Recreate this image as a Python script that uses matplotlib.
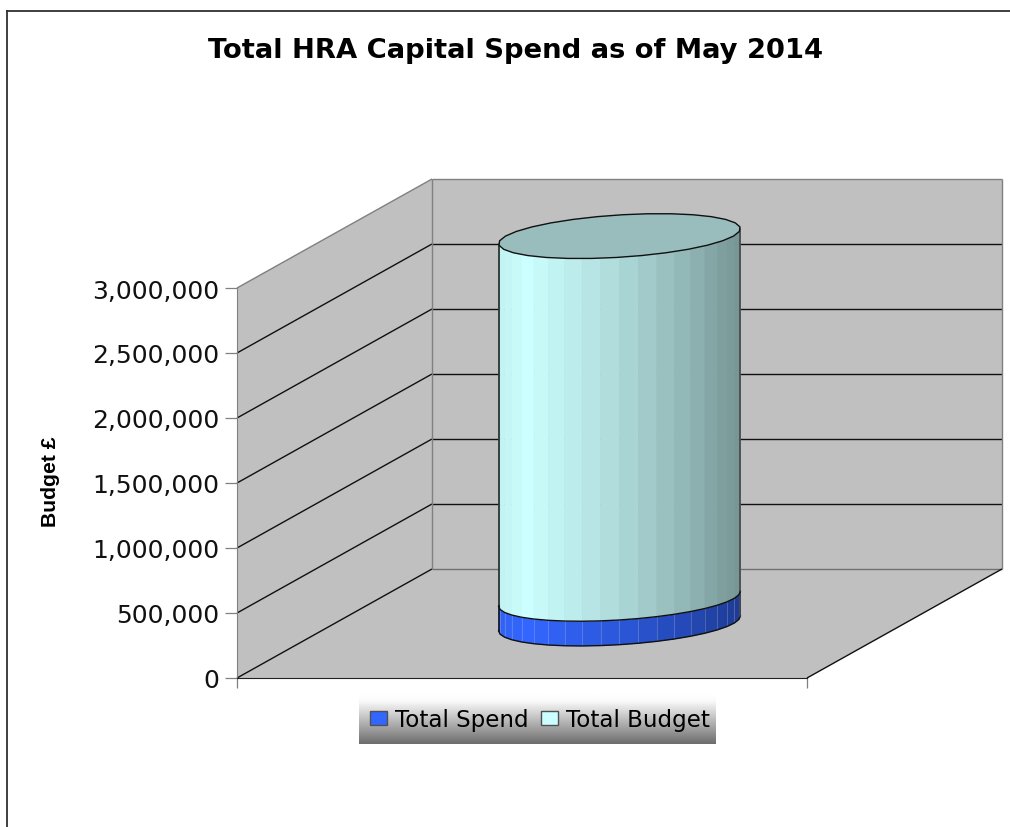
#!/usr/bin/env python
import matplotlib
matplotlib.use("Agg")
import matplotlib.pyplot as plt
import numpy as np
from matplotlib.lines import Line2D
from matplotlib.patches import Patch, Polygon
from matplotlib.ticker import FuncFormatter

title = "Total HRA Capital Spend as of May 2014"
ylabel = "Budget £"
series_names = ["Total Spend", "Total Budget"]
series_values = [190000, 2790000]
series_colors = ["#3366FF", "#CCFFFF"]
yticks = [0, 500000, 1000000, 1500000, 2000000, 2500000, 3000000]

W, H = 1010, 828
# oblique depth of the box, in axis units
DEPTH_X = 195 / 570
DEPTH_Y = 109 / 390 * 3000000
RAD_X = 0.2
RAD_D = 0.206
GREY = "#C0C0C0"
EDGE = "#808080"


def rect(x0, y0, x1, y1):
    return [x0 / W, 1 - y1 / H, (x1 - x0) / W, (y1 - y0) / H]


def project(x, d, v):
    return x + DEPTH_X * d, v + DEPTH_Y * d


def wall(ax, pts, z=1):
    xy = [project(*p) for p in pts]
    ax.add_patch(Polygon(xy, closed=True, fc=GREY, ec="none", zorder=z, clip_on=False))


def seg(ax, pts, color, lw=1.0, z=2):
    xy = np.array([project(*p) for p in pts])
    ax.plot(xy[:, 0], xy[:, 1], color=color, lw=lw, zorder=z, clip_on=False,
            solid_capstyle="butt", solid_joinstyle="miter")


def ring(t, v):
    return project(0.5 + RAD_X * np.cos(t), 0.5 + RAD_D * np.sin(t), v)


def shade(color, f):
    rgb = np.array(matplotlib.colors.to_rgb(color))
    k = np.interp(f, [0, 0.12, 0.5, 0.8, 1], [0.95, 1, 0.85, 0.7, 0.58])
    return rgb * k


def draw_section(ax, low, high, color, seam=False):
    a = RAD_X * 570
    b = RAD_D * 195
    t_right = np.arctan2(b, a)
    t = np.linspace(t_right - np.pi, t_right, 21)
    xs, ys_low = ring(t, low)
    _, ys_high = ring(t, high)
    for i in range(len(t) - 1):
        f = (0.5 * (xs[i] + xs[i + 1]) - xs[0]) / (xs[-1] - xs[0])
        c = shade(color, f)
        quad = [(xs[i], ys_low[i]), (xs[i + 1], ys_low[i + 1]),
                (xs[i + 1], ys_high[i + 1]), (xs[i], ys_high[i])]
        ax.add_patch(Polygon(quad, closed=True, fc=c, ec=c, lw=0.4, zorder=3, clip_on=False))
        if seam and i > 0:
            ax.plot([xs[i], xs[i]], [ys_low[i], ys_high[i]], color="white", alpha=0.18,
                    lw=0.7, zorder=3.1, clip_on=False)
    ax.plot(xs, ys_low, color="#101010", lw=1.0, zorder=3.3, clip_on=False)
    ax.plot([xs[0], xs[0]], [ys_low[0], ys_high[0]], color="#101010", lw=1.1, zorder=3.3, clip_on=False)
    ax.plot([xs[-1], xs[-1]], [ys_low[-1], ys_high[-1]], color="#404040", lw=1.1, zorder=3.3, clip_on=False)


fig = plt.figure(figsize=(W / 100, H / 100), dpi=100)
fig.patch.set_facecolor("white")

# outer chart frame, cut off on the right and bottom like the source image
fig.add_artist(Line2D([7 / W, 7 / W], [0, 1 - 11.5 / H], color="#303030", lw=1.3))
fig.add_artist(Line2D([7 / W, 1], [1 - 11.5 / H, 1 - 11.5 / H], color="#303030", lw=1.3))

fig.text(516 / W, 1 - 51 / H, title, ha="center", va="center", fontsize=19.7,
         fontweight="bold", family="DejaVu Sans")
fig.text(50 / W, 1 - 482 / H, ylabel, ha="center", va="center", rotation=90,
         fontsize=15.2, fontweight="bold", family="Liberation Sans")

# legend background gradient
lax = fig.add_axes(rect(359, 694, 716, 745))
grad = np.interp(np.linspace(0, 1, 60), [0, 0.15, 1], [1.0, 0.98, 0.43]).reshape(-1, 1)
lax.imshow(grad, cmap="gray", vmin=0, vmax=1, aspect="auto")
lax.axis("off")

ax = fig.add_axes(rect(237, 289, 807, 679))
ax.patch.set_visible(False)
ax.set_xlim(0, 1)
ax.set_ylim(0, 3000000)
ax.set_yticks(yticks)
ax.yaxis.set_major_formatter(FuncFormatter(lambda v, p: f"{int(v):,}"))
ax.set_xticks([0, 1])
ax.set_xticklabels([])
ax.tick_params(axis="y", length=8.6, width=0.9, color=EDGE, pad=4.3, labelsize=18,
               labelfontfamily="DejaVu Sans", labelcolor="#111111")
ax.tick_params(axis="x", length=7.5, width=0.9, color=EDGE)
for s in ["top", "right"]:
    ax.spines[s].set_visible(False)
ax.spines["left"].set_color(EDGE)
ax.spines["bottom"].set_color("#202020")

top = yticks[-1]
wall(ax, [(0, 0, 0), (0, 1, 0), (0, 1, top), (0, 0, top)])
wall(ax, [(0, 1, 0), (1, 1, 0), (1, 1, top), (0, 1, top)])
wall(ax, [(0, 0, 0), (1, 0, 0), (1, 1, 0), (0, 1, 0)])

for v in yticks[:-1]:
    seg(ax, [(0, 0, v), (0, 1, v)], "#101010")
    seg(ax, [(0, 1, v), (1, 1, v)], "#101010" if v > 0 else "#707070")
seg(ax, [(0, 1, top), (1, 1, top)], EDGE)
seg(ax, [(0, 0, top), (0, 1, top)], EDGE)
seg(ax, [(0, 1, 0), (0, 1, top)], EDGE)
seg(ax, [(1, 1, 0), (1, 1, top)], EDGE)
seg(ax, [(1, 0, 0), (1, 1, 0)], "#101010")

# stacked cylinder
base = 0
for i, (val, col) in enumerate(zip(series_values, series_colors)):
    draw_section(ax, base, base + val, col, seam=i == 0)
    base += val

tt = np.linspace(0, 2 * np.pi, 31)
tx, ty = ring(tt, base)
ax.add_patch(Polygon(np.column_stack([tx, ty]), closed=True, fc="#99BDBD", ec="#101010",
                     lw=1.0, zorder=3.5, clip_on=False))

handles = [Patch(fc=c, ec="#505050", lw=1.0) for c in series_colors]
fig.legend(handles, series_names, loc="center", bbox_to_anchor=(540 / W, 1 - 720.5 / H),
           ncol=2, frameon=False, handlelength=0.75, handleheight=0.6,
           handletextpad=0.35, columnspacing=0.52, borderpad=0,
           prop={"family": "DejaVu Sans", "size": 16.6})

fig.savefig("out.png", dpi=100)
